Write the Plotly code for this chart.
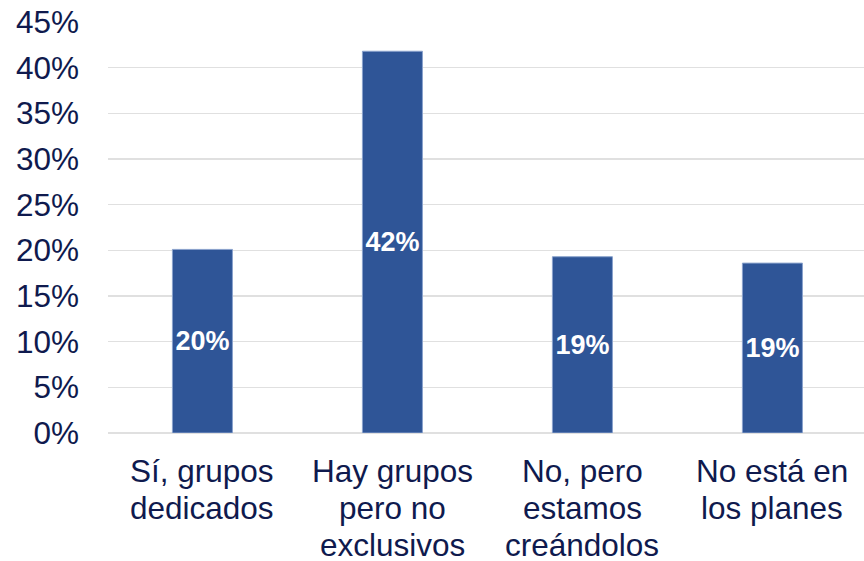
import plotly.graph_objects as go

categories = ["Sí, grupos<br>dedicados", "Hay grupos<br>pero no<br>exclusivos",
              "No, pero<br>estamos<br>creándolos", "No está en<br>los planes"]
values = [20.1, 41.8, 19.3, 18.6]
labels = [f"{round(v)}%" for v in values]
tick_vals = [0, 5, 10, 15, 20, 25, 30, 35, 40, 45]
tick_text = [f"{v}%" for v in tick_vals]

text_color = "#0f1a4e"
bar_color = "#2F5597"
FONT = "Liberation Sans, Arial"

fig = go.Figure(go.Bar(
    x=list(range(len(categories))),
    y=values,
    width=0.316,
    text=labels,
    textposition="inside",
    insidetextanchor="middle",
    textangle=0,
    textfont=dict(family=FONT, size=27, color="white", weight="bold"),
    marker=dict(color=bar_color, line=dict(color="#8aa2cc", width=1)),
    hoverinfo="skip",
))

# category labels, one annotation per line for tighter line spacing
line_gap = 37
first_shift = -18.5
for i, cat in enumerate(categories):
    for j, line in enumerate(cat.split("<br>")):
        fig.add_annotation(
            x=i, xref="x", y=0, yref="paper",
            text=line, showarrow=False,
            xanchor="center", yanchor="top", borderpad=0,
            yshift=first_shift - j * line_gap,
            font=dict(family=FONT, size=31.5, color=text_color),
        )

fig.update_layout(
    width=864, height=561,
    margin=dict(l=108, r=0, t=22, b=127.5),
    paper_bgcolor="white", plot_bgcolor="white",
    showlegend=False,
    font=dict(family=FONT, color=text_color, size=30),
)
fig.update_xaxes(
    range=[-0.497, 3.482],
    showticklabels=False, automargin=False,
    showgrid=False, zeroline=False, showline=False, ticks="",
)
fig.update_yaxes(
    range=[0, 45.001], automargin=False,
    tickmode="array", tickvals=tick_vals, ticktext=tick_text,
    tickfont=dict(family=FONT, size=31.5, color=text_color),
    showgrid=True, gridcolor="#e0e0e0", gridwidth=1.5,
    zeroline=True, zerolinecolor="#e0e0e0", zerolinewidth=1.5,
    showline=False, ticks="", ticklabelstandoff=28,
)

fig.write_html(
    "out.html",
    config={"displayModeBar": False, "staticPlot": True},
    post_script="document.body.style.margin='0';document.body.style.overflow='hidden';",
)
